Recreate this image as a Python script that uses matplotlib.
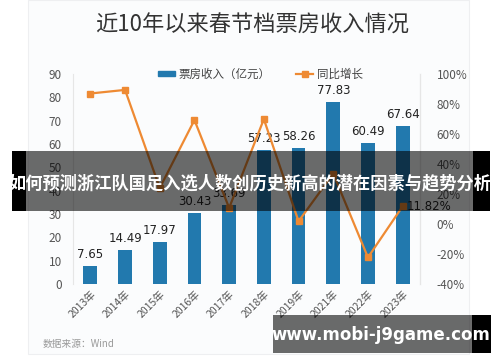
import matplotlib
matplotlib.use("Agg")
import matplotlib.pyplot as plt
from matplotlib.patches import Rectangle
from matplotlib.lines import Line2D
import numpy as np

plt.rcParams['font.family'] = ['Noto Sans CJK SC', 'DejaVu Sans']

years = ['2013年', '2014年', '2015年', '2016年', '2017年', '2018年',
         '2019年', '2021年', '2022年', '2023年']
box_office = [7.65, 14.49, 17.97, 30.43, 33.69, 57.23, 58.26, 77.83, 60.49, 67.64]
growth = [87.0, 89.4, 24.0, 69.3, 10.7, 69.9, 1.8, 33.6, -22.3, 11.82]

BAR_C = '#2279AE'
LINE_C = '#EE8A33'
W, H = 500, 362

fig = plt.figure(figsize=(5, 3.62), dpi=100)
fig.patch.set_facecolor('white')

# card behind the chart
fig.patches.append(Rectangle((28 / W, 8 / H), 441 / W, 354 / H, transform=fig.transFigure,
                             facecolor='#FBFCFD', edgecolor='#EEEFF1', lw=0.8, zorder=-5))

ax = fig.add_axes([73 / W, 78 / H, 347 / W, 210 / H])
ax.set_facecolor('none')
x = np.arange(len(years))
bars = ax.bar(x, box_office, width=0.4, color=BAR_C, zorder=2)
for xi, v in zip(x, box_office):
    ax.text(xi, v + 2.2, f'{v:.2f}', ha='center', va='bottom', fontsize=8.5,
            color='#222222', family='DejaVu Sans')
ax.set_xlim(-0.5, 9.5)
ax.set_ylim(0, 90)
ax.set_yticks(range(0, 91, 10))
ax.set_xticks(x)
ax.set_xticklabels(years, rotation=45, ha='right', rotation_mode='anchor',
                   fontsize=7.5, color='#555555')
ax.tick_params(axis='both', length=0, colors='#555555')
ax.tick_params(axis='y', labelsize=8.5, pad=8)
for s in ['top', 'bottom']:
    ax.spines[s].set_visible(False)
ax.spines['left'].set_color('#E6E6E6')
ax.spines['right'].set_color('#E6E6E6')

ax2 = ax.twinx()
ax2.plot(x, growth, color=LINE_C, lw=1.6, marker='s', markersize=5, zorder=3)
ax2.set_ylim(-40, 100)
ax2.set_yticks(range(-40, 101, 20))
ax2.set_yticklabels([f'{t}%' for t in range(-40, 101, 20)])
ax2.tick_params(axis='y', length=0, labelsize=8.5, colors='#555555', pad=12)
for s in ['top', 'bottom', 'left']:
    ax2.spines[s].set_visible(False)
ax2.spines['right'].set_color('#E6E6E6')
ax2.text(x[-1] + 0.12, growth[-1], f'{growth[-1]:.2f}%', ha='left', va='center',
         fontsize=8.5, color='#222222', family='DejaVu Sans')

handles = [Rectangle((0, 0), 1, 1, color=BAR_C),
           Line2D([], [], color=LINE_C, lw=1.6, marker='s', markersize=4)]
leg = ax.legend(handles, ['票房收入（亿元）', '同比增长'], loc='center',
                bbox_to_anchor=(0.54, 1.0), ncol=2, frameon=False, fontsize=8.3,
                handlelength=1.5, handleheight=0.35, handletextpad=0.3,
                columnspacing=2.2)
for t in leg.get_texts():
    t.set_color('#444444')

fig.text(252 / W, 1 - 25 / H, '近10年以来春节档票房收入情况', ha='center', va='center',
         fontsize=16, color='#333333')
fig.text(43 / W, 1 - 344 / H, '数据来源：Wind', ha='left', va='center',
         fontsize=7, color='#999999')

# overlay banners
def banner(x0, x1, xb, y0, y1):
    fig.patches.append(Rectangle((x0 / W, 1 - y1 / H), (xb - x0) / W, (y1 - y0) / H,
                                 transform=fig.transFigure, facecolor='black',
                                 alpha=0.58, lw=0, zorder=10))
    fig.patches.append(Rectangle((xb / W, 1 - y1 / H), (x1 - xb) / W, (y1 - y0) / H,
                                 transform=fig.transFigure, facecolor='black',
                                 lw=0, zorder=10))

banner(26, 490, 473, 151, 211)
fig.patches.append(Rectangle((12 / W, 1 - 211 / H), 14 / W, 60 / H,
                             transform=fig.transFigure, facecolor='black', lw=0, zorder=10))
fig.text(250 / W, 1 - 183 / H, '如何预测浙江队国足入选人数创历史新高的潜在因素与趋势分析',
         ha='center', va='center', fontsize=12.4, color='white', weight='bold', zorder=11)

banner(273, 491, 472, 315, 353)
fig.text(381 / W, 1 - 335 / H, 'www.mobi-j9game.com', ha='center', va='center',
         fontsize=12, color='white', weight='bold', family='DejaVu Sans', zorder=11)

fig.savefig('out.png', dpi=100)
